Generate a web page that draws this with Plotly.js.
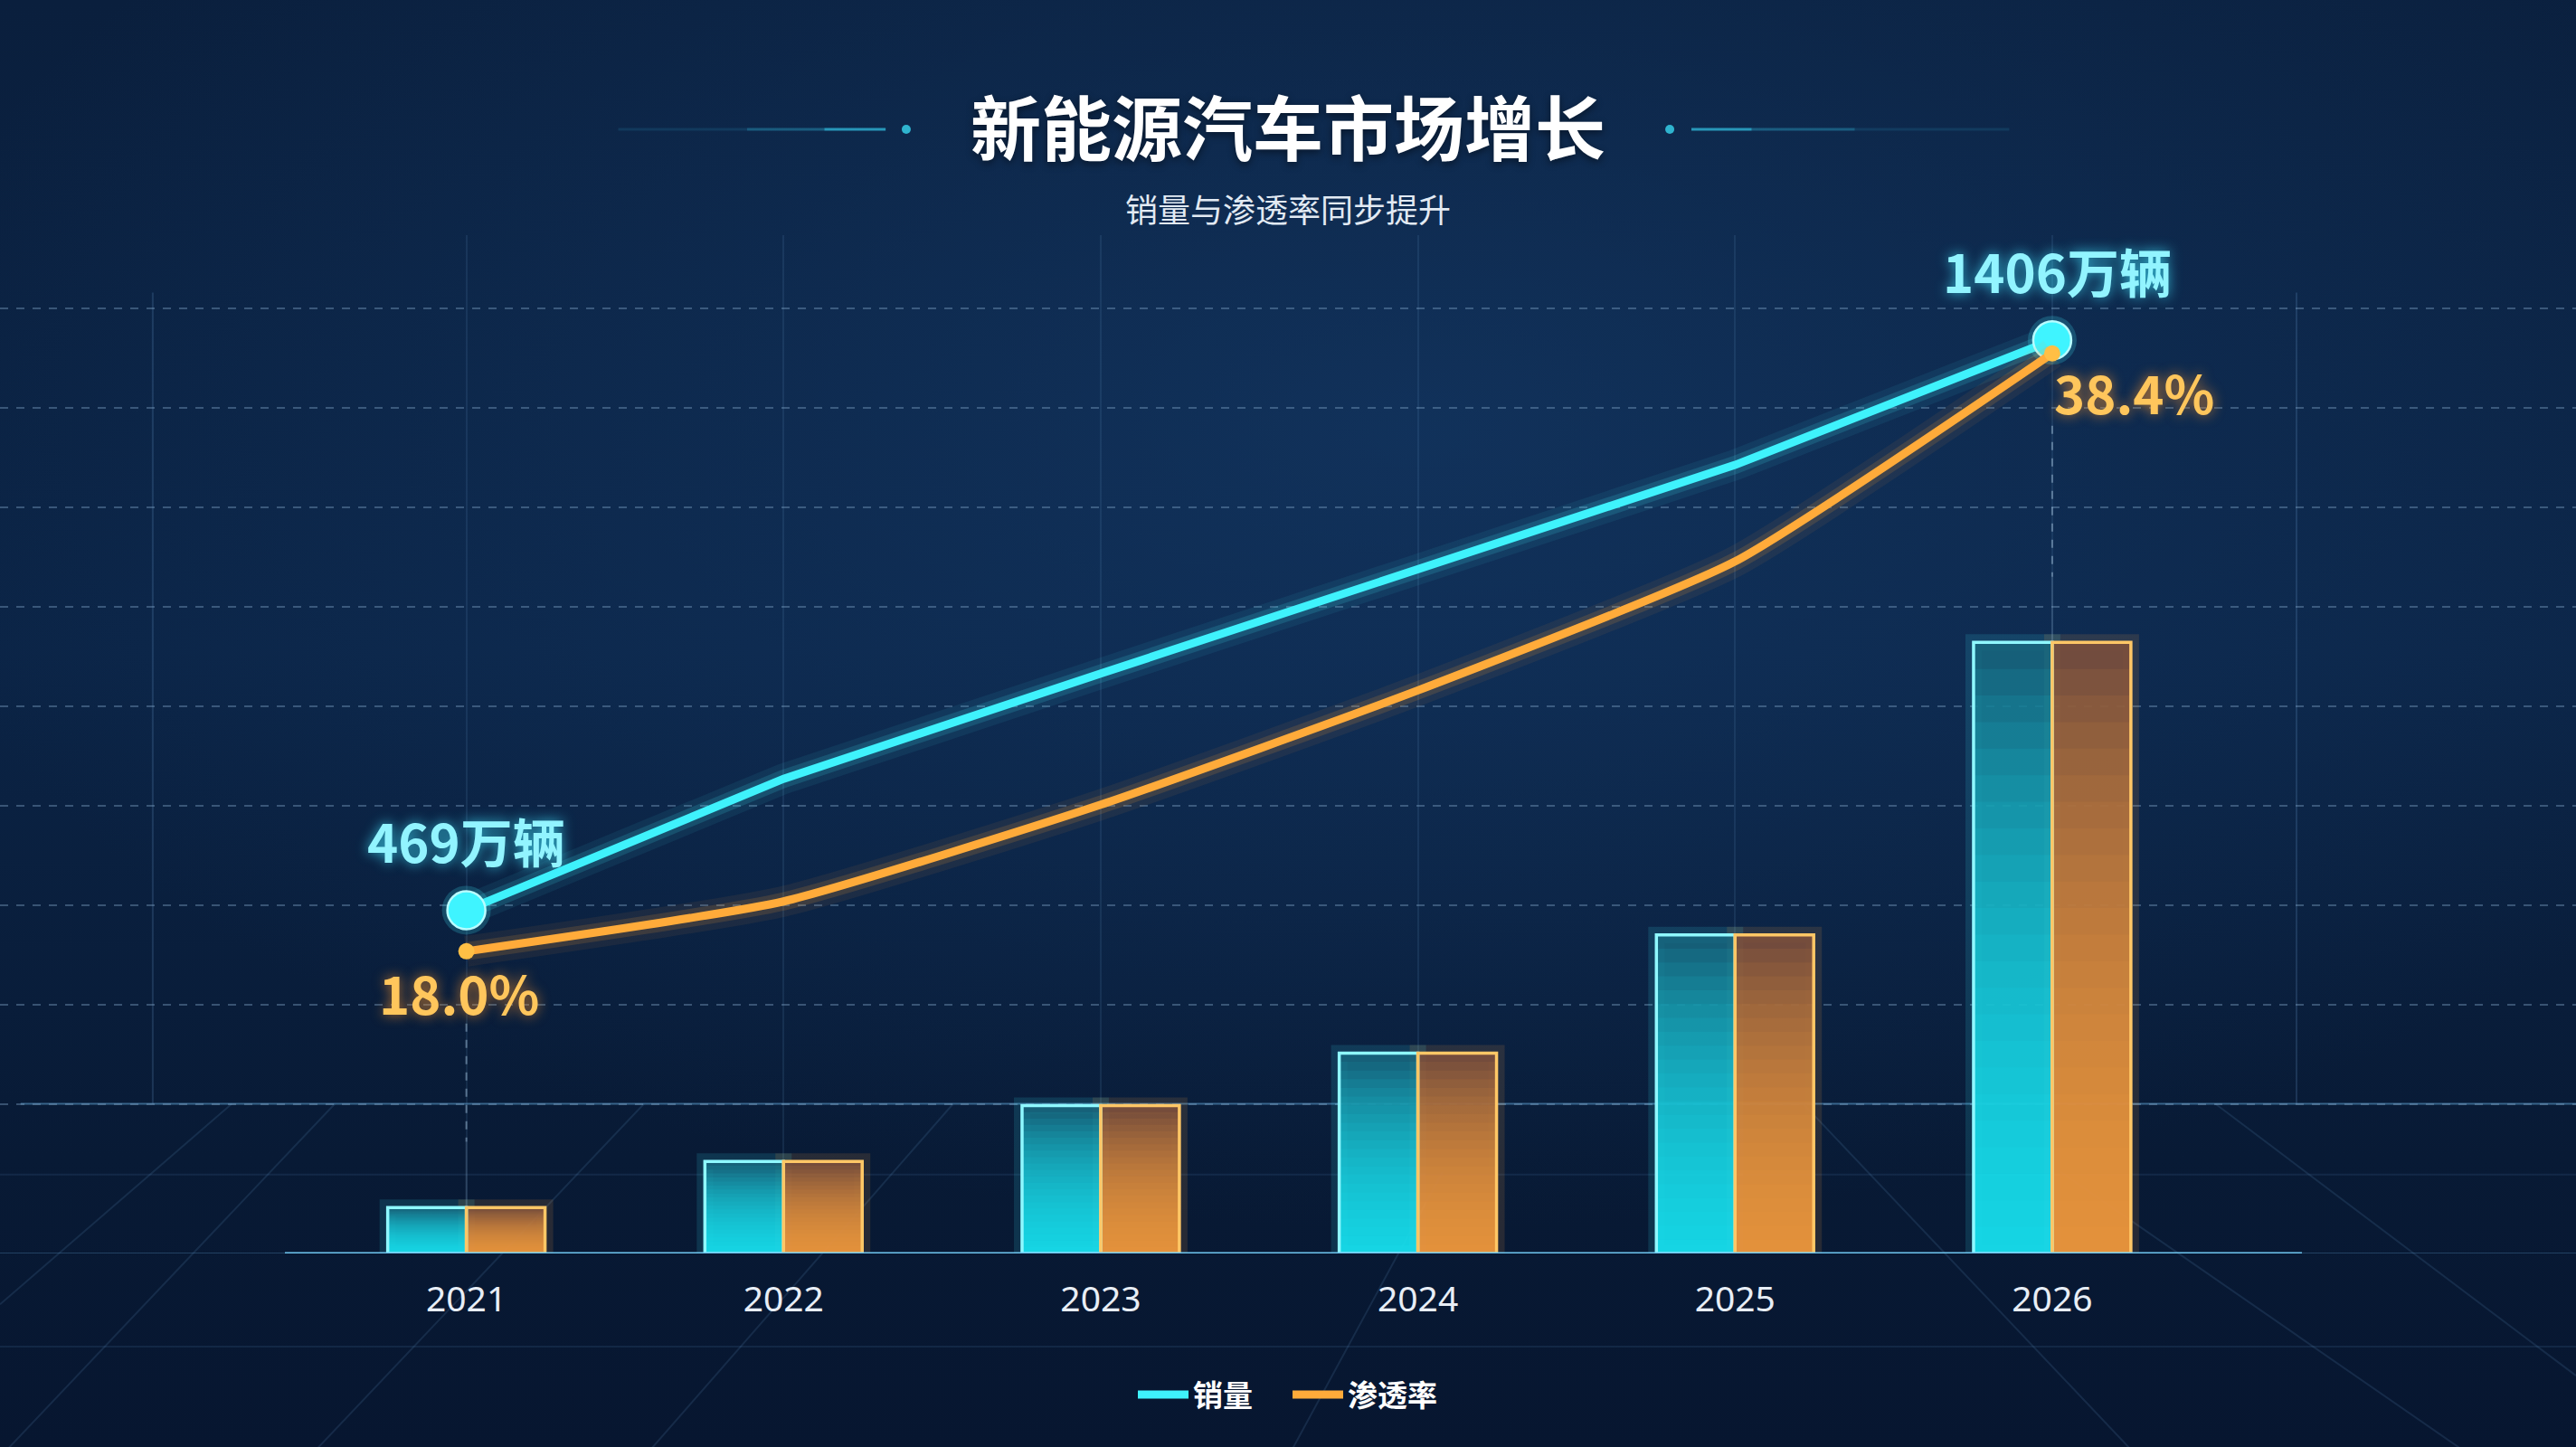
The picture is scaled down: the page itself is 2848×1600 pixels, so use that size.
<!DOCTYPE html>
<html>
<head>
<meta charset="utf-8">
<script src="https://cdn.plot.ly/plotly-3.0.1.min.js"></script>
<style>
  html, body { margin: 0; padding: 0; }
  body {
    width: 2848px; height: 1600px; overflow: hidden;
    background:
      radial-gradient(ellipse 60% 55% at 55% 30%, rgba(22,62,110,0.55) 0%, rgba(22,62,110,0) 100%),
      linear-gradient(180deg, #0a1f3d 0%, #0b2446 45%, #081a35 80%, #071630 100%);
  }
  #chart { width: 2848px; height: 1600px; }
</style>
</head>
<body>
<div id="chart"></div>
<script>
// ---- data ----
const years = ['2021', '2022', '2023', '2024', '2025', '2026'];
const salesWan = [469, 685, 858, 1028, 1201, 1406];          // 销量 (万辆)
const penetrationPct = [18.0, 19.7, 23.0, 26.9, 31.3, 38.4]; // 渗透率 (%)
const barCyan = [28, 56, 90, 122, 194, 372];                 // bar heights (relative units)
const barOrange = [28, 56, 90, 122, 194, 372];
const salesLabels = ['469万辆', '', '', '', '', '1406万辆'];
const penLabels = ['18.0%', '', '', '', '', '38.4%'];
const titleText = '新能源汽车市场增长';
const subtitleText = '销量与渗透率同步提升';
const legendSales = '销量';
const legendPen = '渗透率';

// ---- axis ranges ----
const Y1 = [0, 619.94];
const Y2 = [-95.36, 1578.8];
const Y3 = [7.688, 42.435];
const XR = [-1.4704, 6.6514];

const CYAN = '#3ff2fc';
const ORANGE = '#ffab3a';
const CJK = 'Noto Sans CJK SC, Noto Sans, sans-serif';

const traces = [];
const HALF = 0.248;

// bar halos
traces.push({type:'bar', x:years, y:barCyan, width:HALF, offset:-HALF, yaxis:'y',
  marker:{color:'rgba(0,0,0,0)', line:{color:'rgba(64,240,255,0.13)', width:18}},
  showlegend:false, hoverinfo:'skip'});
traces.push({type:'bar', x:years, y:barOrange, width:HALF, offset:0, yaxis:'y',
  marker:{color:'rgba(0,0,0,0)', line:{color:'rgba(255,160,60,0.13)', width:18}},
  showlegend:false, hoverinfo:'skip'});

// bar bases
traces.push({type:'bar', x:years, y:barCyan, width:HALF, offset:-HALF, yaxis:'y', name:legendSales,
  marker:{color:'rgba(24,104,128,0.85)', line:{width:0}}, showlegend:false, hoverinfo:'x+y'});
traces.push({type:'bar', x:years, y:barOrange, width:HALF, offset:0, yaxis:'y', name:legendPen,
  marker:{color:'rgba(125,80,60,0.9)', line:{width:0}}, showlegend:false, hoverinfo:'x+y'});

// vertical gradient layers (brighter toward the bottom)
const NL = 22;
for (let k = 1; k <= NL; k++) {
  const f = 1 - k / (NL + 1);
  traces.push({type:'bar', x:years, y:barCyan.map(v => v * f), width:HALF, offset:-HALF, yaxis:'y',
    marker:{color:'rgba(30,248,255,0.08)', line:{width:0}}, showlegend:false, hoverinfo:'skip'});
  traces.push({type:'bar', x:years, y:barOrange.map(v => v * f), width:HALF, offset:0, yaxis:'y',
    marker:{color:'rgba(255,164,70,0.08)', line:{width:0}}, showlegend:false, hoverinfo:'skip'});
}

// bar outlines
traces.push({type:'bar', x:years, y:barCyan, width:HALF, offset:-HALF, yaxis:'y',
  marker:{color:'rgba(0,0,0,0)', line:{color:'#8ff8ff', width:3.5}}, showlegend:false, hoverinfo:'skip'});
traces.push({type:'bar', x:years, y:barOrange, width:HALF, offset:0, yaxis:'y',
  marker:{color:'rgba(0,0,0,0)', line:{color:'#ffc766', width:3.5}}, showlegend:false, hoverinfo:'skip'});

// line glows
[[34, 0.07], [20, 0.15]].forEach(([w, a]) => {
  traces.push({type:'scatter', mode:'lines', x:years, y:salesWan, yaxis:'y2',
    line:{color:`rgba(64,240,255,${a})`, width:w, shape:'linear'}, showlegend:false, hoverinfo:'skip'});
  traces.push({type:'scatter', mode:'lines', x:years, y:penetrationPct, yaxis:'y3',
    line:{color:`rgba(255,160,50,${a})`, width:w, shape:'spline', smoothing:0.5}, showlegend:false, hoverinfo:'skip'});
});

// main lines
traces.push({type:'scatter', mode:'lines', name:legendSales, x:years, y:salesWan, yaxis:'y2',
  line:{color:CYAN, width:9, shape:'linear'}, legendrank:1,
  hovertemplate:'%{x}: %{y}万辆<extra></extra>'});
traces.push({type:'scatter', mode:'lines', name:legendPen, x:years, y:penetrationPct, yaxis:'y3',
  line:{color:ORANGE, width:9, shape:'spline', smoothing:0.5}, legendrank:2,
  hovertemplate:'%{x}: %{y:.1f}%<extra></extra>'});

// end-point markers
const ends = [0, years.length - 1];
traces.push({type:'scatter', mode:'markers', x:ends.map(i => years[i]), y:ends.map(i => penetrationPct[i]), yaxis:'y3',
  marker:{size:18, color:'#ffbf45', opacity:1, line:{width:0}}, showlegend:false, hoverinfo:'skip'});
traces.push({type:'scatter', mode:'markers', x:ends.map(i => years[i]), y:ends.map(i => salesWan[i]), yaxis:'y2',
  marker:{size:54, color:'rgba(64,240,255,0.2)', opacity:1, line:{width:0}}, showlegend:false, hoverinfo:'skip'});
traces.push({type:'scatter', mode:'markers', x:ends.map(i => years[i]), y:ends.map(i => salesWan[i]), yaxis:'y2',
  marker:{size:42, color:'#3ff4ff', opacity:1, line:{color:'#b8fcff', width:2.5}}, showlegend:false, hoverinfo:'skip'});

// ---- annotations ----
const annotations = [];
salesLabels.forEach((t, i) => {
  if (!t) return;
  annotations.push({x:i, y:salesWan[i], xref:'x', yref:'y2', text:t, showarrow:false,
    yshift:77, xshift:i === 0 ? 0 : 6, xanchor:'center', yanchor:'middle',
    font:{family:CJK, size:58, color:'#92f4ff', weight:'bold', shadow:'0px 0px 14px rgba(64,230,255,0.75)'}});
});
penLabels.forEach((t, i) => {
  if (!t) return;
  const first = i === 0;
  annotations.push({x:i, y:penetrationPct[i], xref:'x', yref:'y3', text:t, showarrow:false,
    yshift:first ? -45 : -42, xshift:first ? -8 : 0, xanchor:first ? 'center' : 'left', yanchor:'middle',
    font:{family:CJK, size:58, color:'#ffc65c', weight:'bold', shadow:'0px 0px 14px rgba(255,150,40,0.7)'}});
});
annotations.push({x:0.5, y:1.0266, xref:'paper', yref:'paper', text:subtitleText, showarrow:false,
  xanchor:'center', yanchor:'middle', font:{family:CJK, size:36, color:'#e2eaf3'}});

// ---- shapes ----
const shapes = [];
const toY1 = (v, r) => (v - r[0]) / (r[1] - r[0]) * (Y1[1] - Y1[0]) + Y1[0];
// horizon & floor lines
shapes.push({type:'line', xref:'paper', yref:'y', x0:0.008, x1:1, y0:91.1, y1:91.1,
  line:{color:'rgba(95,160,210,0.55)', width:2}, layer:'below'});
shapes.push({type:'line', xref:'paper', yref:'y', x0:0, x1:1, y0:48, y1:48,
  line:{color:'rgba(95,160,210,0.12)', width:2}, layer:'below'});
shapes.push({type:'line', xref:'paper', yref:'paper', x0:0, x1:1, y0:-0.0915, y1:-0.0915,
  line:{color:'rgba(95,160,210,0.12)', width:2}, layer:'below'});
// perspective floor lines
[[0.0, -0.2, 0.13, 0.147], [0.0, -0.05, 0.09, 0.147], [0.12, -0.2, 0.25, 0.147],
 [0.25, -0.2, 0.37, 0.147], [0.5, -0.2, 0.56, 0.08], [0.83, -0.2, 0.70, 0.147],
 [1.0, -0.12, 0.86, 0.147], [0.96, -0.2, 0.80, 0.08]].forEach(([a, b, c, d]) => {
  shapes.push({type:'line', xref:'paper', yref:'paper', x0:a, y0:b, x1:c, y1:d,
    line:{color:'rgba(110,170,220,0.14)', width:2}, layer:'below'});
});
// faint vertical background lines
[0.0593, 0.8915].forEach(px => {
  shapes.push({type:'line', xref:'paper', yref:'y', x0:px, x1:px, y0:91.1, y1:585,
    line:{color:'rgba(110,160,210,0.2)', width:2}, layer:'below'});
});
// baseline
shapes.push({type:'line', xref:'paper', yref:'y', x0:0, x1:1, y0:0, y1:0,
  line:{color:'rgba(95,160,210,0.3)', width:2}, layer:'below'});
shapes.push({type:'line', xref:'paper', yref:'y', x0:0.1106, x1:0.8936, y0:0, y1:0,
  line:{color:'#6fc6ef', width:3}});
// drop lines at first and last year
ends.forEach(i => {
  const top = toY1(penetrationPct[i], Y3) - 44;
  shapes.push({type:'line', xref:'x', yref:'y', x0:i, x1:i, y0:top, y1:barCyan[i] + 40,
    line:{color:'rgba(160,190,215,0.5)', width:2, dash:'dash'}});
  shapes.push({type:'line', xref:'x', yref:'y', x0:i, x1:i, y0:barCyan[i] + 40, y1:barCyan[i],
    line:{color:'rgba(160,190,215,0.18)', width:2}});
});
// title decorations
const ty = 1.1039;
[[0.24, 0.29, 0.15], [0.29, 0.32, 0.4], [0.32, 0.3438, 0.85]].forEach(([a, b, o]) => {
  shapes.push({type:'line', xref:'paper', yref:'paper', x0:a, x1:b, y0:ty, y1:ty,
    line:{color:`rgba(45,170,205,${o})`, width:3}});
});
[[0.6566, 0.68, 0.85], [0.68, 0.72, 0.4], [0.72, 0.78, 0.15]].forEach(([a, b, o]) => {
  shapes.push({type:'line', xref:'paper', yref:'paper', x0:a, x1:b, y0:ty, y1:ty,
    line:{color:`rgba(45,170,205,${o})`, width:3}});
});
[0.3518, 0.6482].forEach(cx => {
  shapes.push({type:'circle', xref:'paper', yref:'paper', xsizemode:'pixel', ysizemode:'pixel',
    xanchor:cx, yanchor:ty, x0:-5, x1:5, y0:-5, y1:5,
    fillcolor:'#2fb4cf', line:{width:0}});
});

// dashed grid positions (horizon line plus every step above it)
const gridVals = [];
for (let k = 0; k <= 8; k++) gridVals.push(91.1 + 60.5 * k);

const layout = {
  width: 2848, height: 1600,
  margin: {l:0, r:0, t:260, b:214},
  paper_bgcolor: 'rgba(0,0,0,0)',
  plot_bgcolor: 'rgba(0,0,0,0)',
  title: {text: titleText, x:0.5, xanchor:'center', y:0.9094, yanchor:'middle', yref:'container',
    font:{family:CJK, size:78, color:'#ffffff', weight:'bold', shadow:'0px 3px 8px rgba(0,0,0,0.45)'}},
  barmode: 'overlay',
  xaxis: {type:'category', range:XR, showgrid:true, gridcolor:'rgba(110,160,210,0.13)', gridwidth:2,
    showline:false, zeroline:false, ticks:'', ticklabelstandoff:24,
    tickfont:{family:'Noto Sans, Noto Sans CJK SC, sans-serif', size:39, color:'#e8eef6'}, fixedrange:true},
  yaxis: {range:Y1, tickmode:'array', tickvals:gridVals, showgrid:true, gridcolor:'rgba(135,170,205,0.38)', gridwidth:2,
    griddash:'dash', showticklabels:false, zeroline:false, showline:false, ticks:'', fixedrange:true},
  yaxis2: {range:Y2, overlaying:'y', visible:false, fixedrange:true},
  yaxis3: {range:Y3, overlaying:'y', visible:false, fixedrange:true},
  legend: {orientation:'h', x:0.5, xanchor:'center', y:-0.1385, yanchor:'middle',
    font:{family:CJK, size:33, color:'#ffffff', weight:'bold'}, bgcolor:'rgba(0,0,0,0)',
    itemwidth:56, entrywidth:100, entrywidthmode:'pixels', traceorder:'normal'},
  showlegend: true,
  annotations: annotations,
  shapes: shapes,
  hovermode: 'closest'
};

Plotly.newPlot('chart', traces, layout, {displayModeBar:false, responsive:false});
</script>
</body>
</html>
